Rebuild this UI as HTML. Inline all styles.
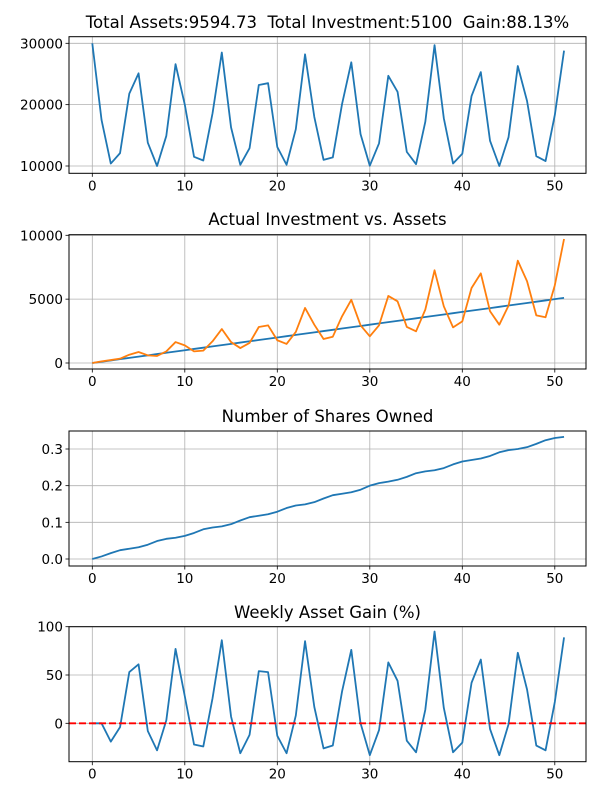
<!DOCTYPE html>
<html><head><meta charset="utf-8"><style>
html,body{margin:0;padding:0;background:#fff}
svg{display:block;font-family:"DejaVu Sans","Liberation Sans",sans-serif}
text{white-space:pre}
</style></head><body>
<svg id="fig" width="600" height="800" viewBox="0 0 600 800" xmlns="http://www.w3.org/2000/svg" xml:space="preserve"></svg>
<script>
const weeks = Array.from({length:52},(_,i)=>i);
const totalAssets = [30000,17500,10400,12100,21800,25100,13800,10000,14900,26600,20000,11500,10900,18600,28500,16300,10200,12900,23200,23500,13100,10200,16000,28200,18000,11000,11400,20100,26900,15200,10050,13700,24700,22100,12300,10300,17200,29700,17800,10400,12000,21400,25300,14100,10000,14700,26300,20600,11600,10800,18300,28800];
const investment = weeks.map(i=>i*100);
const actualAssets = [0,130,230,340,650,860,600,550,910,1640,1380,910,970,1700,2660,1640,1170,1570,2820,2950,1780,1490,2430,4310,3000,1880,2060,3660,4950,2950,2090,2950,5250,4830,2820,2480,4180,7260,4440,2790,3260,5870,7020,4050,3000,4490,8010,6400,3730,3580,6080,9710];
const shares = [0,0.007,0.016,0.024,0.028,0.032,0.039,0.049,0.055,0.058,0.063,0.071,0.081,0.086,0.089,0.095,0.105,0.114,0.118,0.122,0.129,0.139,0.146,0.149,0.155,0.165,0.174,0.178,0.182,0.189,0.2,0.207,0.211,0.216,0.224,0.234,0.239,0.242,0.248,0.258,0.266,0.27,0.274,0.281,0.291,0.297,0.3,0.305,0.314,0.324,0.33,0.333];
const weeklyGain = [0,0,-19,-4,53,61,-8,-28,3,77,28,-22,-24,26,86,7,-31,-12,54,53,-13,-31,8,85,17,-26,-23,33,76,0,-33,-7,63,44,-18,-30,14,95,16,-30,-20,42,66,-6,-33,-1,73,35,-23,-28,22,89];
const xTicks = [0,10,20,30,40,50];
const yTicks1 = [10000,20000,30000];
const yTicks2 = [0,5000,10000];
const yTicks3 = [0.0,0.1,0.2,0.3];
const yTicks4 = [0,50,100];

const NS="http://www.w3.org/2000/svg";
const svg=document.getElementById('fig');
function mk(tag,attrs,parent){const e=document.createElementNS(NS,tag);for(const k in attrs)e.setAttribute(k,attrs[k]);(parent||svg).appendChild(e);return e;}
const L=69,R=586;
const xs=v=>92.3+v*9.25;

function panel(name,top,bot,v0,p0,v1,p1,yt,fmt,title,titleY){
  const g=mk('g',{});
  
  
  const ys=v=>p0+(v-v0)*(p1-p0)/(v1-v0);
  xTicks.forEach(t=>{
    const ln=mk('line',{x1:xs(t),x2:xs(t),y1:top,y2:bot,stroke:'#b0b0b0','stroke-width':0.8},g);
    
    
    mk('line',{x1:xs(t),x2:xs(t),y1:bot,y2:bot+3.5,stroke:'#000','stroke-width':0.8},g);
    const tx=mk('text',{x:xs(t),y:bot+17,'text-anchor':'middle','font-size':13.5},g);
    tx.textContent=t;
    
    
  });
  yt.forEach(t=>{
    const y=ys(t);
    const ln=mk('line',{x1:L,x2:R,y1:y,y2:y,stroke:'#b0b0b0','stroke-width':0.8},g);
    
    
    mk('line',{x1:L-3.5,x2:L,y1:y,y2:y,stroke:'#000','stroke-width':0.8},g);
    const tx=mk('text',{x:L-6,y:y+5,'text-anchor':'end','font-size':13.5},g);
    tx.textContent=fmt(t);
    
    
  });
  const tt=mk('text',{x:(L+R)/2,y:titleY,'text-anchor':'middle','font-size':16.5},g);
  tt.textContent=title;
  
  
  return {g,ys,top,bot};
}
function line(p,data,color,name,dash){
  const d=data.map((v,i)=>(i?'L':'M')+xs(i).toFixed(2)+','+p.ys(v).toFixed(2)).join('');
  const a={d,fill:'none',stroke:color,'stroke-width':1.8,'stroke-linejoin':'round'};
  if(dash)a['stroke-dasharray']=dash;
  const e=mk('path',a,p.g);
  
  
}
function frame(p){
  const r=mk('rect',{x:L,y:p.top,width:R-L,height:p.bot-p.top,fill:'none',stroke:'#000','stroke-width':1},p.g);
  
  
}

const p1=panel('total-assets',36.7,173.3,10000,166,30000,43.3,yTicks1,t=>t,'Total Assets:9594.73  Total Investment:5100  Gain:88.13%',28);
line(p1,totalAssets,'#1f77b4','total-assets-line');frame(p1);

const p2=panel('investment-vs-assets',234.7,369,0,363,10000,235.3,yTicks2,t=>t,'Actual Investment vs. Assets',225);
line(p2,investment,'#1f77b4','investment-line');
line(p2,actualAssets,'#ff7f0e','assets-line');frame(p2);

const p3=panel('shares-owned',431,566,0,559,0.3,449,yTicks3,t=>t.toFixed(1),'Number of Shares Owned',422);
line(p3,shares,'#1f77b4','shares-line');frame(p3);

const p4=panel('weekly-gain',626.7,761.7,0,723.3,100,626.7,yTicks4,t=>t,'Weekly Asset Gain (%)',618);
line(p4,weeklyGain,'#1f77b4','weekly-gain-line');
const zl=mk('line',{x1:L,x2:R,y1:p4.ys(0),y2:p4.ys(0),stroke:'#ff0000','stroke-width':1.8,'stroke-dasharray':'7,3'},p4.g);


frame(p4);
</script>
</body></html>
